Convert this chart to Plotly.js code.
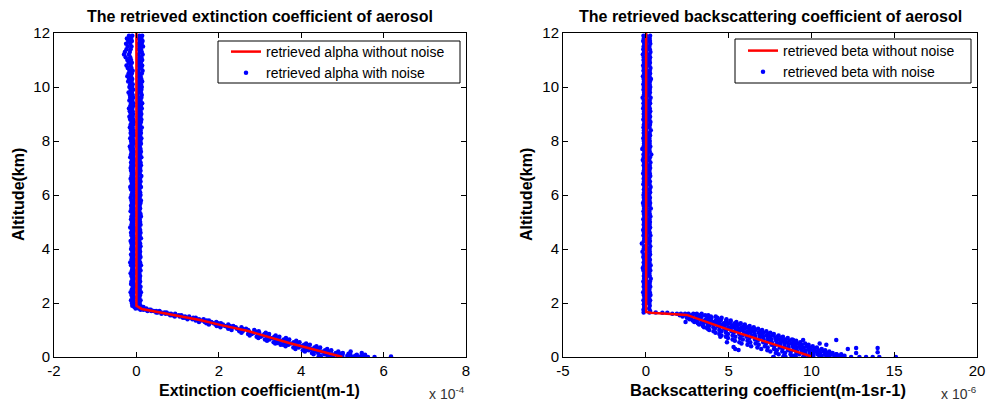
<!DOCTYPE html>
<html><head><meta charset="utf-8">
<script src="https://cdn.plot.ly/plotly-3.0.1.min.js"></script>
<style>html,body{margin:0;padding:0;background:#fff}#chart{width:990px;height:405px}</style>
</head><body><div id="chart"></div><script>
// Units: alpha in 1e-4 m^-1, beta in 1e-6 m^-1 sr^-1, altitude in km

// ---------- altitude levels of the upper band ----------
const bandAlt = [2.0,2.1,2.2,2.3,2.4,2.5,2.6,2.7,2.8,2.9,3.0,3.1,3.2,3.3,3.4,3.5,3.6,3.7,3.8,3.9,
4.0,4.1,4.2,4.3,4.4,4.5,4.6,4.7,4.8,4.9,5.0,5.1,5.2,5.3,5.4,5.5,5.6,5.7,5.8,5.9,
6.0,6.1,6.2,6.3,6.4,6.5,6.6,6.7,6.8,6.9,7.0,7.1,7.2,7.3,7.4,7.5,7.6,7.7,7.8,7.9,
8.0,8.1,8.2,8.3,8.4,8.5,8.6,8.7,8.8,8.9,9.0,9.1,9.2,9.3,9.4,9.5,9.6,9.7,9.8,9.9,
10.0,10.1,10.2,10.3,10.4,10.5,10.6,10.7,10.8,10.9,11.0,11.1,11.2,11.3,11.4,11.5,11.6,11.7,11.8,11.9];

// ---------- alpha (extinction) ----------
const alphaCleanAlt = [12, 1.9, 1.78, 1.59, 1.37, 1.19, 0.96, 0.51, 0.0];
const alphaCleanX   = [0.0, 0.0, 0.13, 0.82, 1.54, 2.03, 2.71, 3.73, 5.0];

const alphaBandL = [-0.11,-0.13,-0.10,-0.12,-0.14,-0.11,-0.09,-0.13,-0.12,-0.10,
-0.12,-0.14,-0.11,-0.10,-0.13,-0.15,-0.12,-0.11,-0.13,-0.10,
-0.13,-0.11,-0.12,-0.14,-0.10,-0.12,-0.13,-0.11,-0.15,-0.12,
-0.11,-0.13,-0.12,-0.10,-0.14,-0.12,-0.13,-0.11,-0.12,-0.14,
-0.12,-0.10,-0.13,-0.15,-0.11,-0.12,-0.14,-0.12,-0.11,-0.13,
-0.14,-0.12,-0.13,-0.11,-0.15,-0.13,-0.12,-0.14,-0.16,-0.12,
-0.13,-0.15,-0.12,-0.14,-0.13,-0.16,-0.14,-0.12,-0.15,-0.17,
-0.14,-0.16,-0.18,-0.15,-0.13,-0.17,-0.15,-0.16,-0.19,-0.14,
-0.17,-0.15,-0.20,-0.18,-0.22,-0.19,-0.17,-0.21,-0.24,-0.19,
-0.22,-0.26,-0.30,-0.28,-0.24,-0.21,-0.25,-0.20,-0.23,-0.18];
const alphaBandN = [-0.06,-0.07,-0.05,-0.08,-0.06,-0.07,-0.05,-0.06,-0.08,-0.06,
-0.07,-0.05,-0.06,-0.08,-0.06,-0.07,-0.05,-0.07,-0.06,-0.08,
-0.06,-0.08,-0.05,-0.07,-0.06,-0.07,-0.08,-0.05,-0.06,-0.07,
-0.07,-0.06,-0.08,-0.05,-0.07,-0.06,-0.08,-0.06,-0.07,-0.05,
-0.06,-0.07,-0.05,-0.08,-0.06,-0.07,-0.06,-0.08,-0.05,-0.07,
-0.08,-0.06,-0.07,-0.05,-0.08,-0.07,-0.06,-0.08,-0.09,-0.06,
-0.07,-0.09,-0.06,-0.08,-0.07,-0.09,-0.08,-0.06,-0.08,-0.09,
-0.08,-0.09,-0.10,-0.08,-0.07,-0.10,-0.08,-0.09,-0.11,-0.08,
-0.10,-0.09,-0.12,-0.10,-0.13,-0.11,-0.09,-0.12,-0.14,-0.11,
-0.13,-0.15,-0.18,-0.16,-0.14,-0.12,-0.15,-0.11,-0.13,-0.10];
const alphaBandP = [0.03,0.04,0.02,0.05,0.03,0.04,0.02,0.03,0.05,0.03,
0.04,0.02,0.03,0.05,0.04,0.03,0.02,0.04,0.05,0.03,
0.02,0.04,0.03,0.05,0.02,0.04,0.03,0.02,0.05,0.04,
0.03,0.05,0.02,0.04,0.03,0.05,0.04,0.02,0.03,0.04,
0.05,0.03,0.04,0.02,0.05,0.03,0.04,0.03,0.02,0.05,
0.04,0.03,0.05,0.02,0.04,0.05,0.03,0.04,0.02,0.05,
0.03,0.05,0.04,0.02,0.05,0.04,0.03,0.05,0.04,0.03,
0.05,0.04,0.06,0.03,0.05,0.04,0.06,0.03,0.05,0.06,
0.04,0.06,0.05,0.07,0.04,0.06,0.05,0.07,0.06,0.05,
0.06,0.07,0.05,0.08,0.06,0.07,0.05,0.08,0.06,0.07];
const alphaBandR = [0.08,0.10,0.07,0.09,0.11,0.08,0.10,0.07,0.09,0.08,
0.09,0.07,0.10,0.08,0.11,0.09,0.07,0.10,0.08,0.09,
0.08,0.10,0.09,0.07,0.11,0.08,0.10,0.09,0.07,0.10,
0.09,0.08,0.11,0.10,0.07,0.09,0.08,0.10,0.11,0.08,
0.10,0.09,0.07,0.11,0.08,0.10,0.09,0.12,0.08,0.10,
0.09,0.11,0.10,0.08,0.12,0.09,0.11,0.10,0.08,0.11,
0.10,0.12,0.09,0.11,0.10,0.13,0.09,0.11,0.12,0.10,
0.12,0.10,0.13,0.11,0.14,0.10,0.12,0.13,0.11,0.12,
0.13,0.11,0.14,0.12,0.10,0.13,0.15,0.12,0.14,0.11,
0.14,0.12,0.15,0.13,0.11,0.16,0.13,0.15,0.12,0.14];

const alphaSlopeAlt = [1.90,1.85,1.80,1.75,1.70,1.65,1.60,1.55,1.50,1.45,1.40,1.35,1.30,1.25,1.20,1.15,1.10,1.05,1.00,
0.95,0.90,0.85,0.80,0.75,0.70,0.65,0.60,0.55,0.50,0.45,0.40,0.35,0.30,0.25,0.20,0.15,0.10,0.05,0.00];
const alphaSlopeA = [-0.10,-0.05,-0.02,0.10,0.27,0.48,0.61,0.82,0.93,1.13,1.24,1.44,1.52,1.70,1.76,1.95,2.04,2.23,2.31,
2.50,2.55,2.71,2.75,2.92,2.96,3.12,3.17,3.33,3.37,3.56,3.62,3.81,3.86,4.04,4.09,4.26,4.30,4.46,4.48];
const alphaSlopeB = [-0.04,0.02,0.06,0.17,0.36,0.52,0.71,0.87,1.05,1.18,1.36,1.50,1.66,1.76,1.92,2.03,2.21,2.30,2.49,
2.58,2.74,2.80,2.95,3.02,3.17,3.23,3.39,3.46,3.60,3.69,3.85,3.94,4.09,4.18,4.33,4.41,4.56,4.64,4.77];
const alphaSlopeC = [0.01,0.06,0.11,0.24,0.42,0.60,0.78,0.95,1.11,1.28,1.44,1.60,1.73,1.87,2.00,2.15,2.30,2.44,2.59,
2.73,2.85,2.96,3.07,3.19,3.30,3.41,3.53,3.64,3.75,3.88,4.00,4.13,4.25,4.38,4.50,4.63,4.75,4.88,5.00];
const alphaSlopeD = [0.05,0.12,0.16,0.31,0.48,0.68,0.84,1.03,1.18,1.38,1.52,1.70,1.82,1.98,2.10,2.27,2.41,2.57,2.71,
2.88,2.98,3.11,3.21,3.35,3.45,3.58,3.68,3.82,3.91,4.07,4.17,4.32,4.42,4.58,4.67,4.84,4.95,5.12,5.24];
const alphaSlopeE = [0.10,0.17,0.24,0.35,0.56,0.73,0.94,1.09,1.28,1.44,1.63,1.76,1.94,2.05,2.23,2.35,2.55,2.66,2.86,
2.97,3.14,3.22,3.38,3.47,3.63,3.71,3.88,3.96,4.12,4.21,4.37,4.46,4.63,4.73,4.90,5.01,5.19,5.31,5.52];
const alphaExtraAlt = [0.0,0.0,0.0,0.0,0.0,0.0,0.03,0.03,0.02,0.08,0.08,0.08,0.15,0.20,0.12,0.12,0.45,0.48,0.52];
const alphaExtraX   = [4.42,4.70,5.28,5.40,5.62,5.78,5.15,5.45,6.18,5.00,5.35,5.55,5.47,5.20,4.95,5.15,3.50,3.62,3.42];

// ---------- beta (backscattering) ----------
const betaCleanAlt = [12, 1.67, 1.64, 1.61, 1.56, 1.03, 0.53, 0.02];
const betaCleanX   = [0.02, 0.02, 0.3, 1.5, 2.47, 4.9, 7.45, 10.0];

const betaBandL = [-0.10,-0.14,-0.08,-0.12,-0.16,-0.09,-0.13,-0.11,-0.15,-0.10,
-0.12,-0.09,-0.14,-0.18,-0.11,-0.13,-0.10,-0.15,-0.12,-0.20,
-0.13,-0.10,-0.24,-0.12,-0.09,-0.14,-0.11,-0.16,-0.10,-0.13,
-0.11,-0.15,-0.09,-0.12,-0.14,-0.10,-0.13,-0.17,-0.11,-0.12,
-0.14,-0.10,-0.12,-0.09,-0.15,-0.11,-0.13,-0.10,-0.16,-0.12,
-0.10,-0.13,-0.11,-0.18,-0.12,-0.14,-0.09,-0.21,-0.13,-0.11,
-0.12,-0.15,-0.10,-0.13,-0.11,-0.14,-0.12,-0.09,-0.15,-0.11,
-0.13,-0.10,-0.16,-0.12,-0.14,-0.11,-0.19,-0.12,-0.10,-0.14,
-0.12,-0.15,-0.11,-0.13,-0.17,-0.10,-0.14,-0.12,-0.16,-0.11,
-0.14,-0.12,-0.18,-0.11,-0.15,-0.13,-0.10,-0.16,-0.12,-0.14];
const betaBandM = [0.04,0.08,0.02,0.10,0.06,0.03,0.09,0.05,0.07,0.01,
0.06,0.02,0.09,0.04,0.08,0.03,0.10,0.05,0.02,0.07,
0.09,0.03,0.06,0.01,0.08,0.04,0.10,0.02,0.07,0.05,
0.03,0.08,0.05,0.10,0.02,0.06,0.04,0.09,0.01,0.07,
0.08,0.02,0.06,0.04,0.10,0.03,0.07,0.05,0.09,0.02,
0.05,0.09,0.01,0.07,0.03,0.08,0.06,0.02,0.10,0.04,
0.07,0.03,0.09,0.05,0.01,0.08,0.04,0.06,0.02,0.10,
0.02,0.06,0.04,0.09,0.07,0.01,0.05,0.10,0.03,0.08,
0.06,0.10,0.03,0.07,0.02,0.09,0.05,0.01,0.08,0.04,
0.09,0.04,0.07,0.02,0.06,0.10,0.03,0.08,0.05,0.01];
const betaBandR = [0.22,0.26,0.20,0.28,0.24,0.21,0.27,0.23,0.25,0.30,
0.24,0.21,0.27,0.23,0.29,0.22,0.25,0.20,0.26,0.24,
0.23,0.27,0.21,0.25,0.22,0.28,0.24,0.20,0.26,0.23,
0.25,0.22,0.28,0.24,0.21,0.30,0.23,0.26,0.22,0.25,
0.21,0.26,0.23,0.29,0.22,0.25,0.20,0.27,0.24,0.22,
0.26,0.23,0.28,0.21,0.25,0.33,0.24,0.22,0.27,0.23,
0.24,0.21,0.26,0.23,0.30,0.22,0.25,0.28,0.21,0.26,
0.22,0.27,0.24,0.20,0.26,0.23,0.29,0.21,0.25,0.24,
0.27,0.23,0.25,0.31,0.22,0.26,0.24,0.28,0.21,0.25,
0.23,0.26,0.22,0.28,0.24,0.21,0.27,0.25,0.23,0.26];

const betaBendAlt = [1.95,1.90,1.85,1.80,1.75,1.70,1.65,1.65,1.65,1.64,1.64];
const betaBendX   = [-0.12,0.24,-0.10,0.20,-0.14,0.26,-0.13,0.22,0.60,1.00,1.30];

const betaSlopeAlt = [1.60,1.55,1.50,1.45,1.40,1.35,1.30,1.25,1.20,1.15,1.10,1.05,1.00,
0.95,0.90,0.85,0.80,0.75,0.70,0.65,0.60,0.55,0.50,0.45,0.40,0.35,0.30,0.25,0.20,0.15,0.10,0.05,0.00];
const betaSlopeA = [1.60,2.05,2.22,2.48,2.63,2.83,2.93,3.14,3.22,3.45,3.52,3.74,3.83,
4.09,4.21,4.44,4.57,4.84,4.96,5.24,5.38,5.65,5.78,6.14,6.36,6.74,6.97,7.34,7.52,7.85,8.02,8.34,7.72];
const betaSlopeB = [1.88,2.28,2.58,2.73,3.04,3.12,3.38,3.46,3.74,3.82,4.08,4.17,4.44,
4.57,4.84,4.96,5.24,5.41,5.69,5.86,6.14,6.31,6.63,6.82,7.19,7.36,7.74,7.91,8.24,8.41,8.74,8.91,8.44];
const betaSlopeC = [2.12,2.58,2.83,3.08,3.27,3.53,3.67,3.94,4.07,4.34,4.46,4.74,4.86,
5.18,5.31,5.64,5.82,6.08,6.26,6.59,6.76,7.09,7.26,7.59,7.76,8.09,8.26,8.59,8.76,9.09,9.26,9.59,9.06];
const betaSlopeD = [2.37,2.77,3.18,3.32,3.64,3.82,4.08,4.27,4.53,4.72,4.98,5.12,5.43,
5.62,5.93,6.12,6.38,6.61,6.88,7.12,7.38,7.61,7.93,8.12,8.38,8.62,8.93,9.12,9.43,9.62,9.88,10.12,9.83];
const betaSlopeE = [2.58,3.08,3.37,3.73,3.92,4.23,4.43,4.72,4.88,5.18,5.32,5.63,5.82,
6.13,6.32,6.58,6.87,7.08,7.37,7.58,7.87,8.13,8.37,8.62,8.88,9.13,9.37,9.62,9.88,10.13,10.37,10.62,10.48];
const betaSlopeF = [2.87,3.27,3.72,3.97,4.28,4.52,4.83,5.02,5.33,5.52,5.78,5.97,6.27,
6.48,6.82,7.02,7.28,7.52,7.82,8.03,8.28,8.52,8.82,9.03,9.28,9.52,9.82,10.02,10.28,10.52,10.82,11.02,11.03];
const betaSlopeG = [3.08,3.58,3.93,4.32,4.53,4.87,5.12,5.38,5.62,5.93,6.12,6.38,6.62,
6.93,7.12,7.38,7.68,7.93,8.18,8.42,8.68,8.93,9.18,9.42,9.72,9.93,10.18,10.43,10.72,10.93,11.18,11.38,11.52];
const betaSlopeH = [3.37,3.77,4.22,4.58,4.87,5.13,5.47,5.73,5.98,6.27,6.52,6.78,7.02,
7.28,7.52,7.73,8.02,8.28,8.57,8.83,9.08,9.33,9.62,9.83,10.08,10.33,10.62,10.83,11.08,11.28,11.52,11.68,11.92];
const betaExtraAlt = [0.63,0.63,0.63,0.30,0.33,0.15,0.33,0.18,0.00,
0.00,0.00,0.00,0.00,0.00,0.00,0.00,0.00,0.00,0.00,0.00,0.00,
0.05,0.05,0.05,0.10,0.10,0.10,0.30,0.37,0.26,0.55,0.75,0.45,0.50,1.07,1.30];
const betaExtraX   = [11.5,9.5,8.9,12.2,12.7,12.7,14.0,14.0,15.1,
7.7,8.3,8.8,9.5,10.6,11.1,11.9,12.4,12.9,13.3,13.7,14.1,
10.9,11.6,12.0,11.5,11.8,10.9,5.4,5.3,5.6,4.9,4.5,10.9,10.5,3.7,2.4];

const alphaTicks = [-2,0,2,4,6,8];
const betaTicks = [-5,0,5,10,15,20];
const altTicks = [0,2,4,6,8,10,12];

// ---------- assemble noisy traces ----------
const alphaNoisyX = [].concat(alphaBandL, alphaBandN, alphaBandP, alphaBandR,
  alphaSlopeA, alphaSlopeB, alphaSlopeC, alphaSlopeD, alphaSlopeE, alphaExtraX);
const alphaNoisyY = [].concat(bandAlt, bandAlt, bandAlt, bandAlt,
  alphaSlopeAlt, alphaSlopeAlt, alphaSlopeAlt, alphaSlopeAlt, alphaSlopeAlt, alphaExtraAlt);
const betaNoisyX = [].concat(betaBandL, betaBandM, betaBandR, betaBendX,
  betaSlopeA, betaSlopeB, betaSlopeC, betaSlopeD, betaSlopeE, betaSlopeF, betaSlopeG, betaSlopeH, betaExtraX);
const betaNoisyY = [].concat(bandAlt, bandAlt, bandAlt, betaBendAlt,
  betaSlopeAlt, betaSlopeAlt, betaSlopeAlt, betaSlopeAlt, betaSlopeAlt, betaSlopeAlt, betaSlopeAlt, betaSlopeAlt, betaExtraAlt);

const FONT = 'Liberation Sans, Arial, Helvetica, sans-serif';
const BLUE = '#0000ff', RED = '#ff0000';

const data = [
  {x: alphaNoisyX, y: alphaNoisyY, xaxis:'x', yaxis:'y', type:'scatter', mode:'markers',
   name:'retrieved alpha with noise', legend:'legend', legendrank:2,
   marker:{color:BLUE, size:4.5}},
  {x: alphaCleanX, y: alphaCleanAlt, xaxis:'x', yaxis:'y', type:'scatter', mode:'lines',
   name:'retrieved alpha without noise', legend:'legend', legendrank:1,
   line:{color:RED, width:2.5}},
  {x: betaNoisyX, y: betaNoisyY, xaxis:'x2', yaxis:'y2', type:'scatter', mode:'markers',
   name:'retrieved beta with noise', legend:'legend2', legendrank:2,
   marker:{color:BLUE, size:4.5}},
  {x: betaCleanX, y: betaCleanAlt, xaxis:'x2', yaxis:'y2', type:'scatter', mode:'lines',
   name:'retrieved beta without noise', legend:'legend2', legendrank:1,
   line:{color:RED, width:2.5}}
];

const W = 990, H = 405;
const px = v => v / W, py = v => (H - v) / H;
const axBase = {showline:true, mirror:'ticks', linecolor:'#000', linewidth:1, ticks:'inside',
  ticklen:5, tickcolor:'#000', showgrid:false, zeroline:false, tickfont:{family:FONT, size:15, color:'#000'}};
const legBase = {bgcolor:'rgba(0,0,0,0)', borderwidth:0, font:{family:FONT, size:14, color:'#000'},
  traceorder:'normal', tracegroupgap:0, xanchor:'left', yanchor:'top'};

const layout = {
  width:W, height:H, margin:{l:0,r:0,t:0,b:0}, paper_bgcolor:'#fff', plot_bgcolor:'#fff',
  font:{family:FONT, color:'#000'},
  xaxis: Object.assign({}, axBase, {domain:[px(54), px(466)], range:[-2,8], tickvals:alphaTicks, ticktext:alphaTicks.map(String), anchor:'y'}),
  yaxis: Object.assign({}, axBase, {domain:[py(357), py(33)], range:[0,12], tickvals:altTicks, anchor:'x'}),
  xaxis2: Object.assign({}, axBase, {domain:[px(563), px(977)], range:[-5,20], tickvals:betaTicks, ticktext:betaTicks.map(String), anchor:'y2'}),
  yaxis2: Object.assign({}, axBase, {domain:[py(357), py(33)], range:[0,12], tickvals:altTicks, anchor:'x2'}),
  legend: Object.assign({}, legBase, {x:px(226), y:py(36)}),
  legend2: Object.assign({}, legBase, {x:px(743), y:py(35)}),
  showlegend:true,
  shapes: [
    {type:'rect', xref:'paper', yref:'paper', x0:px(218), x1:px(460), y0:py(83), y1:py(41), line:{color:'#000', width:1}, fillcolor:'#fff', layer:'above'},
    {type:'rect', xref:'paper', yref:'paper', x0:px(735), x1:px(971), y0:py(83), y1:py(39), line:{color:'#000', width:1}, fillcolor:'#fff', layer:'above'}
  ],
  annotations: [
    {text:'The retrieved extinction coefficient of aerosol', xref:'paper', yref:'paper', x:px(260), y:py(16), xanchor:'center', yanchor:'middle', showarrow:false, font:{family:FONT, size:16, weight:'bold'}},
    {text:'The retrieved backscattering coefficient of aerosol', xref:'paper', yref:'paper', x:px(770), y:py(16), xanchor:'center', yanchor:'middle', showarrow:false, font:{family:FONT, size:16, weight:'bold'}},
    {text:'Extinction coefficient(m-1)', xref:'paper', yref:'paper', x:px(259), y:py(390), xanchor:'center', yanchor:'middle', showarrow:false, font:{family:FONT, size:16, weight:'bold'}},
    {text:'Backscattering coefficient(m-1sr-1)', xref:'paper', yref:'paper', x:px(768), y:py(390), xanchor:'center', yanchor:'middle', showarrow:false, font:{family:FONT, size:16.5, weight:'bold'}},
    {text:'Altitude(km)', xref:'paper', yref:'paper', x:px(18), y:py(195), xanchor:'center', yanchor:'middle', textangle:-90, showarrow:false, font:{family:FONT, size:16, weight:'bold'}},
    {text:'Altitude(km)', xref:'paper', yref:'paper', x:px(526), y:py(195), xanchor:'center', yanchor:'middle', textangle:-90, showarrow:false, font:{family:FONT, size:16, weight:'bold'}},
    {text:'x 10<sup>-4</sup>', xref:'paper', yref:'paper', x:px(467), y:py(393), xanchor:'right', yanchor:'middle', showarrow:false, font:{family:FONT, size:14, color:'#333'}},
    {text:'x 10<sup>-6</sup>', xref:'paper', yref:'paper', x:px(979), y:py(393), xanchor:'right', yanchor:'middle', showarrow:false, font:{family:FONT, size:14, color:'#333'}}
  ]
};

Plotly.newPlot('chart', data, layout, {staticPlot:true, displayModeBar:false});
</script></body></html>
